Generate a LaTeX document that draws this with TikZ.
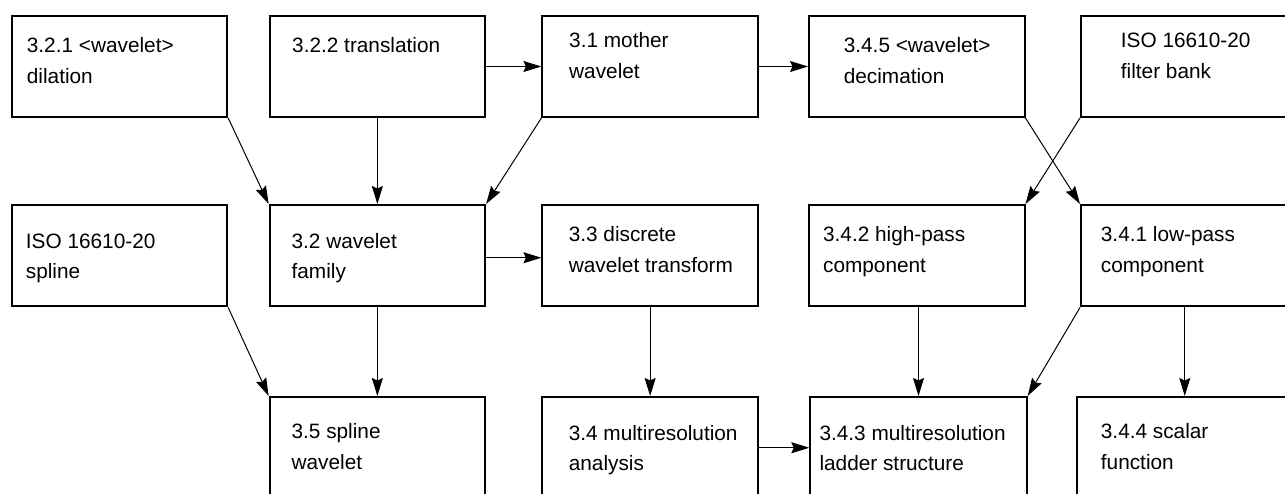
\documentclass[tikz,border=0pt]{standalone}
\usepackage{fontspec}
\setmainfont{Liberation Sans}
\usetikzlibrary{arrows.meta}
\begin{document}
\begin{tikzpicture}[x=1pt,y=-1pt,
  box/.style={draw, line width=2pt, anchor=north west, inner sep=0pt, minimum width=215.5pt},
  toprow/.style={box, minimum height=101pt},
  midrow/.style={box, minimum height=101.5pt},
  lowrow/.style={box, minimum height=101.5pt},
  lbl/.style={anchor=base west, inner sep=0pt, font=\fontsize{20.8}{24}\selectfont},
  conn/.style={draw, line width=1pt, -{Stealth[length=18pt,width=11pt,inset=2.5pt]}}]
\useasboundingbox (0,0) rectangle (1285,494);
\clip (0,0) rectangle (1285,494);
% top row
\node[toprow] (a) at (10.7,15) {};
\node[toprow] (b) at (268.6,15) {};
\node[toprow] (c) at (541.4,15) {};
\node[toprow] (d) at (808,15) {};
\node[toprow] (e) at (1080,15) {};
% middle row
\node[midrow] (f) at (10.7,204) {};
\node[midrow] (g) at (268.6,204) {};
\node[midrow] (h) at (541.4,204) {};
\node[midrow] (i) at (808,204) {};
\node[midrow] (j) at (1080,204) {};
% bottom row
\node[lowrow] (k) at (268.6,396) {};
\node[lowrow] (l) at (541.4,396) {};
\node[lowrow, minimum width=216.4pt] (m) at (809.3,396) {};
\node[lowrow] (n) at (1076,396) {};
% labels
\node[lbl] (a1) at (26.7,52.5) {3.2.1 <wavelet>};
\node[lbl] (a2) at (26.7,83.5) {dilation};
\node[lbl] (b1) at (292,52.5) {3.2.2 translation};
\node[lbl] (c1) at (569,47.5) {3.1 mother};
\node[lbl] (c2) at (569,78.5) {wavelet};
\node[lbl] (d1) at (843.6,52.5) {3.4.5 <wavelet>};
\node[lbl] (d2) at (843.6,83.5) {decimation};
\node[lbl] (e1) at (1120.7,48) {ISO 16610-20};
\node[lbl] (e2) at (1120.7,79) {filter bank};
\node[lbl] (f1) at (25.7,249) {ISO 16610-20};
\node[lbl] (f2) at (25.7,279) {spline};
\node[lbl] (g1) at (291.4,249) {3.2 wavelet};
\node[lbl] (g2) at (291.4,279) {family};
\node[lbl] (h1) at (568.6,242) {3.3 discrete};
\node[lbl] (h2) at (568.6,273) {wavelet transform};
\node[lbl] (i1) at (822.9,242) {3.4.2 high-pass};
\node[lbl] (i2) at (822.9,273) {component};
\node[lbl] (j1) at (1100.7,242) {3.4.1 low-pass};
\node[lbl] (j2) at (1100.7,273) {component};
\node[lbl] (k1) at (291.4,438) {3.5 spline};
\node[lbl] (k2) at (291.4,469) {wavelet};
\node[lbl] (l1) at (568.6,440) {3.4 multiresolution};
\node[lbl] (l2) at (568.6,470) {analysis};
\node[lbl] (m1) at (819.3,440) {3.4.3 multiresolution};
\node[lbl] (m2) at (819.3,470) {ladder structure};
\node[lbl] (n1) at (1100.7,438) {3.4.4 scalar};
\node[lbl] (n2) at (1100.7,469) {function};
% connectors
\draw[conn] (b.east) -- (c.west);
\draw[conn] (c.east) -- (d.west);
\draw[conn] (a.south east) -- (g.north west);
\draw[conn] (b.south) -- (g.north);
\draw[conn] (c.south west) -- (g.north east);
\draw[conn] (d.south east) -- (j.north west);
\draw[conn] (e.south west) -- (i.north east);
\draw[conn] ([yshift=-2pt]g.east) -- ([yshift=-2pt]h.west);
\draw[conn] (g.south) -- (k.north);
\draw[conn] (f.south east) -- (k.north west);
\draw[conn] (h.south) -- (l.north);
\draw[conn] (m.north |- i.south) -- (m.north);
\draw[conn] (j.south west) -- (m.north east);
\draw[conn] (n.north |- j.south) -- (n.north);
\draw[conn] (l.east) -- (m.west);
\end{tikzpicture}
\end{document}
